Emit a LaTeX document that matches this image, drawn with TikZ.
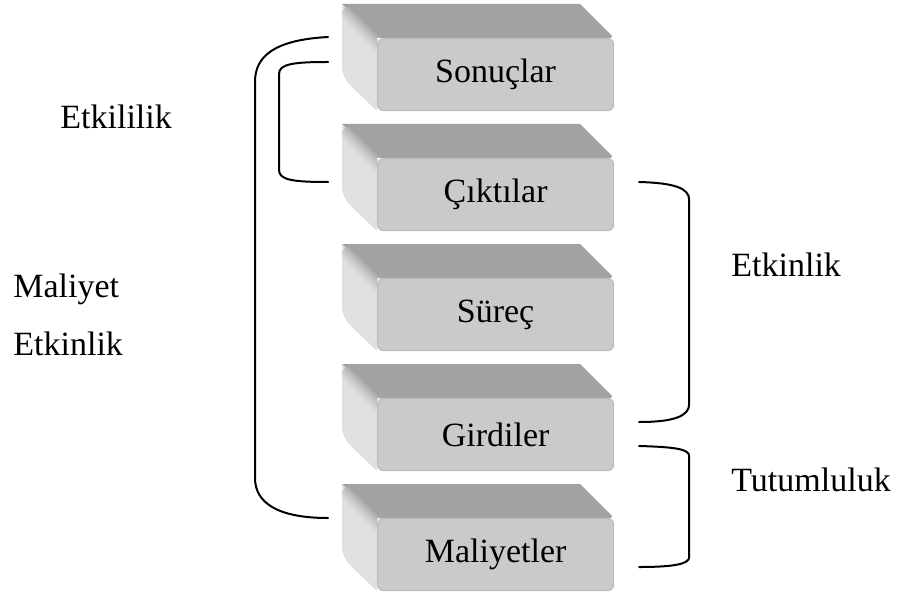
\documentclass[tikz,border=0pt]{standalone}
\usepackage{fontspec}
\setmainfont{Liberation Serif}
\usetikzlibrary{calc}
\pgfdeclarelayer{background}
\pgfsetlayers{background,main}
\definecolor{topface}{HTML}{A2A2A2}
\definecolor{frontface}{HTML}{CACACA}
\definecolor{frontedge}{HTML}{BDBDBD}
\definecolor{sidelight}{HTML}{E0E0E0}

\tikzset{
  front/.style={draw=frontedge, line width=0.6pt, fill=frontface,
    rounded corners=3pt, minimum width=118pt, minimum height=36pt,
    inner sep=0pt, anchor=north west,
    font=\fontsize{17}{20}\selectfont},
  brace/.style={line width=1pt, line cap=round},
  lbl/.style={anchor=base west, inner sep=0pt,
    font=\fontsize{17}{20}\selectfont}
}

% 3D sides of a block (left face, top face, soft bevel between them),
% drawn behind its front face
\newcommand{\blocksides}[1]{%
  \begin{pgfonlayer}{background}
    \coordinate (btl) at ($(#1.north west)+(-35,-34)$);
    \coordinate (btr) at ($(#1.north east)+(-34,-34)$);
    \coordinate (bbl) at ($(#1.south west)+(-35,-34)$);
    \fill[sidelight] (btl) [rounded corners=5pt] -- (bbl) [sharp corners]
      -- (#1.south west) -- (#1.north west) -- cycle;
    \fill[topface] (btl) -- (btr) [rounded corners=2pt]
      -- (#1.north east) [sharp corners] -- (#1.north west) -- cycle;
    \begin{scope}
      \clip (bbl) [rounded corners=6pt] -- (btl) [sharp corners] -- (btr)
        -- (#1.north east) -- (#1.north west) -- (#1.south west) -- cycle;
      \foreach \k in {-16,...,6} {
        \pgfmathtruncatemacro\p{100*((\k+16)/22)^1.3}
        \draw[line width=0.8pt, topface!\p!sidelight]
          ($(btl)+(\k-12,-12)$) -- ($(#1.north west)+(\k+12,12)$);
      }
    \end{scope}
  \end{pgfonlayer}%
}

\begin{document}
\begin{tikzpicture}[x=0.5pt, y=-0.5pt]
\useasboundingbox (0,0) rectangle (898,593);

% front faces of the five stacked blocks
\node[front] (son) at (377,38)  {Sonuçlar};
\node[front] (cik) at (377,158) {Çıktılar};
\node[front] (sur) at (377,278) {Süreç};
\node[front] (gir) at (377,398) {Girdiler};
\node[front] (mal) at (377,518) {Maliyetler};

\blocksides{son}
\blocksides{cik}
\blocksides{sur}
\blocksides{gir}
\blocksides{mal}

% outer left bracket: Sonuçlar -- Maliyetler
\coordinate (oa) at ($(son.north west)+(-49,-1)$);
\coordinate (ob) at ($(mal.north west)+(-49,0)$);
\draw[brace] (oa) .. controls ($(oa)+(-55,3)$) and ($(oa)+(-73,20)$) .. ($(oa)+(-73,45)$)
  -- ($(ob)+(-73,-40)$) .. controls ($(ob)+(-73,-15)$) and ($(ob)+(-50,0)$) .. (ob);

% inner left bracket: Sonuçlar -- Çıktılar
\coordinate (ia) at ($(son.north west)+(-49,24)$);
\coordinate (ib) at ($(cik.north west)+(-49,24)$);
\draw[brace] (ia) .. controls ($(ia)+(-35,0)$) and ($(ia)+(-49,2)$) .. ($(ia)+(-49,12)$)
  -- ($(ib)+(-49,-12)$) .. controls ($(ib)+(-49,-2)$) and ($(ib)+(-35,0)$) .. (ib);

% right bracket: Çıktılar -- Girdiler
\coordinate (ra) at ($(cik.north east)+(25,24)$);
\coordinate (rb) at ($(gir.north east)+(25,24)$);
\draw[brace] (ra) .. controls ($(ra)+(35,1)$) and ($(ra)+(50,6)$) .. ($(ra)+(50,18)$)
  -- ($(rb)+(50,-18)$) .. controls ($(rb)+(50,-6)$) and ($(rb)+(35,0)$) .. (rb);

% right bracket: Girdiler -- Maliyetler
\coordinate (ta) at ($(gir.north east)+(25,48)$);
\coordinate (tb) at ($(mal.north east)+(25,49)$);
\draw[brace] (ta) .. controls ($(ta)+(35,1)$) and ($(ta)+(50,3)$) .. ($(ta)+(50,10)$)
  -- ($(tb)+(50,-10)$) .. controls ($(tb)+(50,-3)$) and ($(tb)+(35,0)$) .. (tb);

% bracket labels
\node[lbl] (l1) at (60,129)  {Etkililik};
\node[lbl] (l2) at (13,297)  {Maliyet};
\node[lbl] (l3) at (13,355)  {Etkinlik};
\node[lbl] (l4) at (731,276) {Etkinlik};
\node[lbl] (l5) at (731,491) {Tutumluluk};
\end{tikzpicture}
\end{document}
